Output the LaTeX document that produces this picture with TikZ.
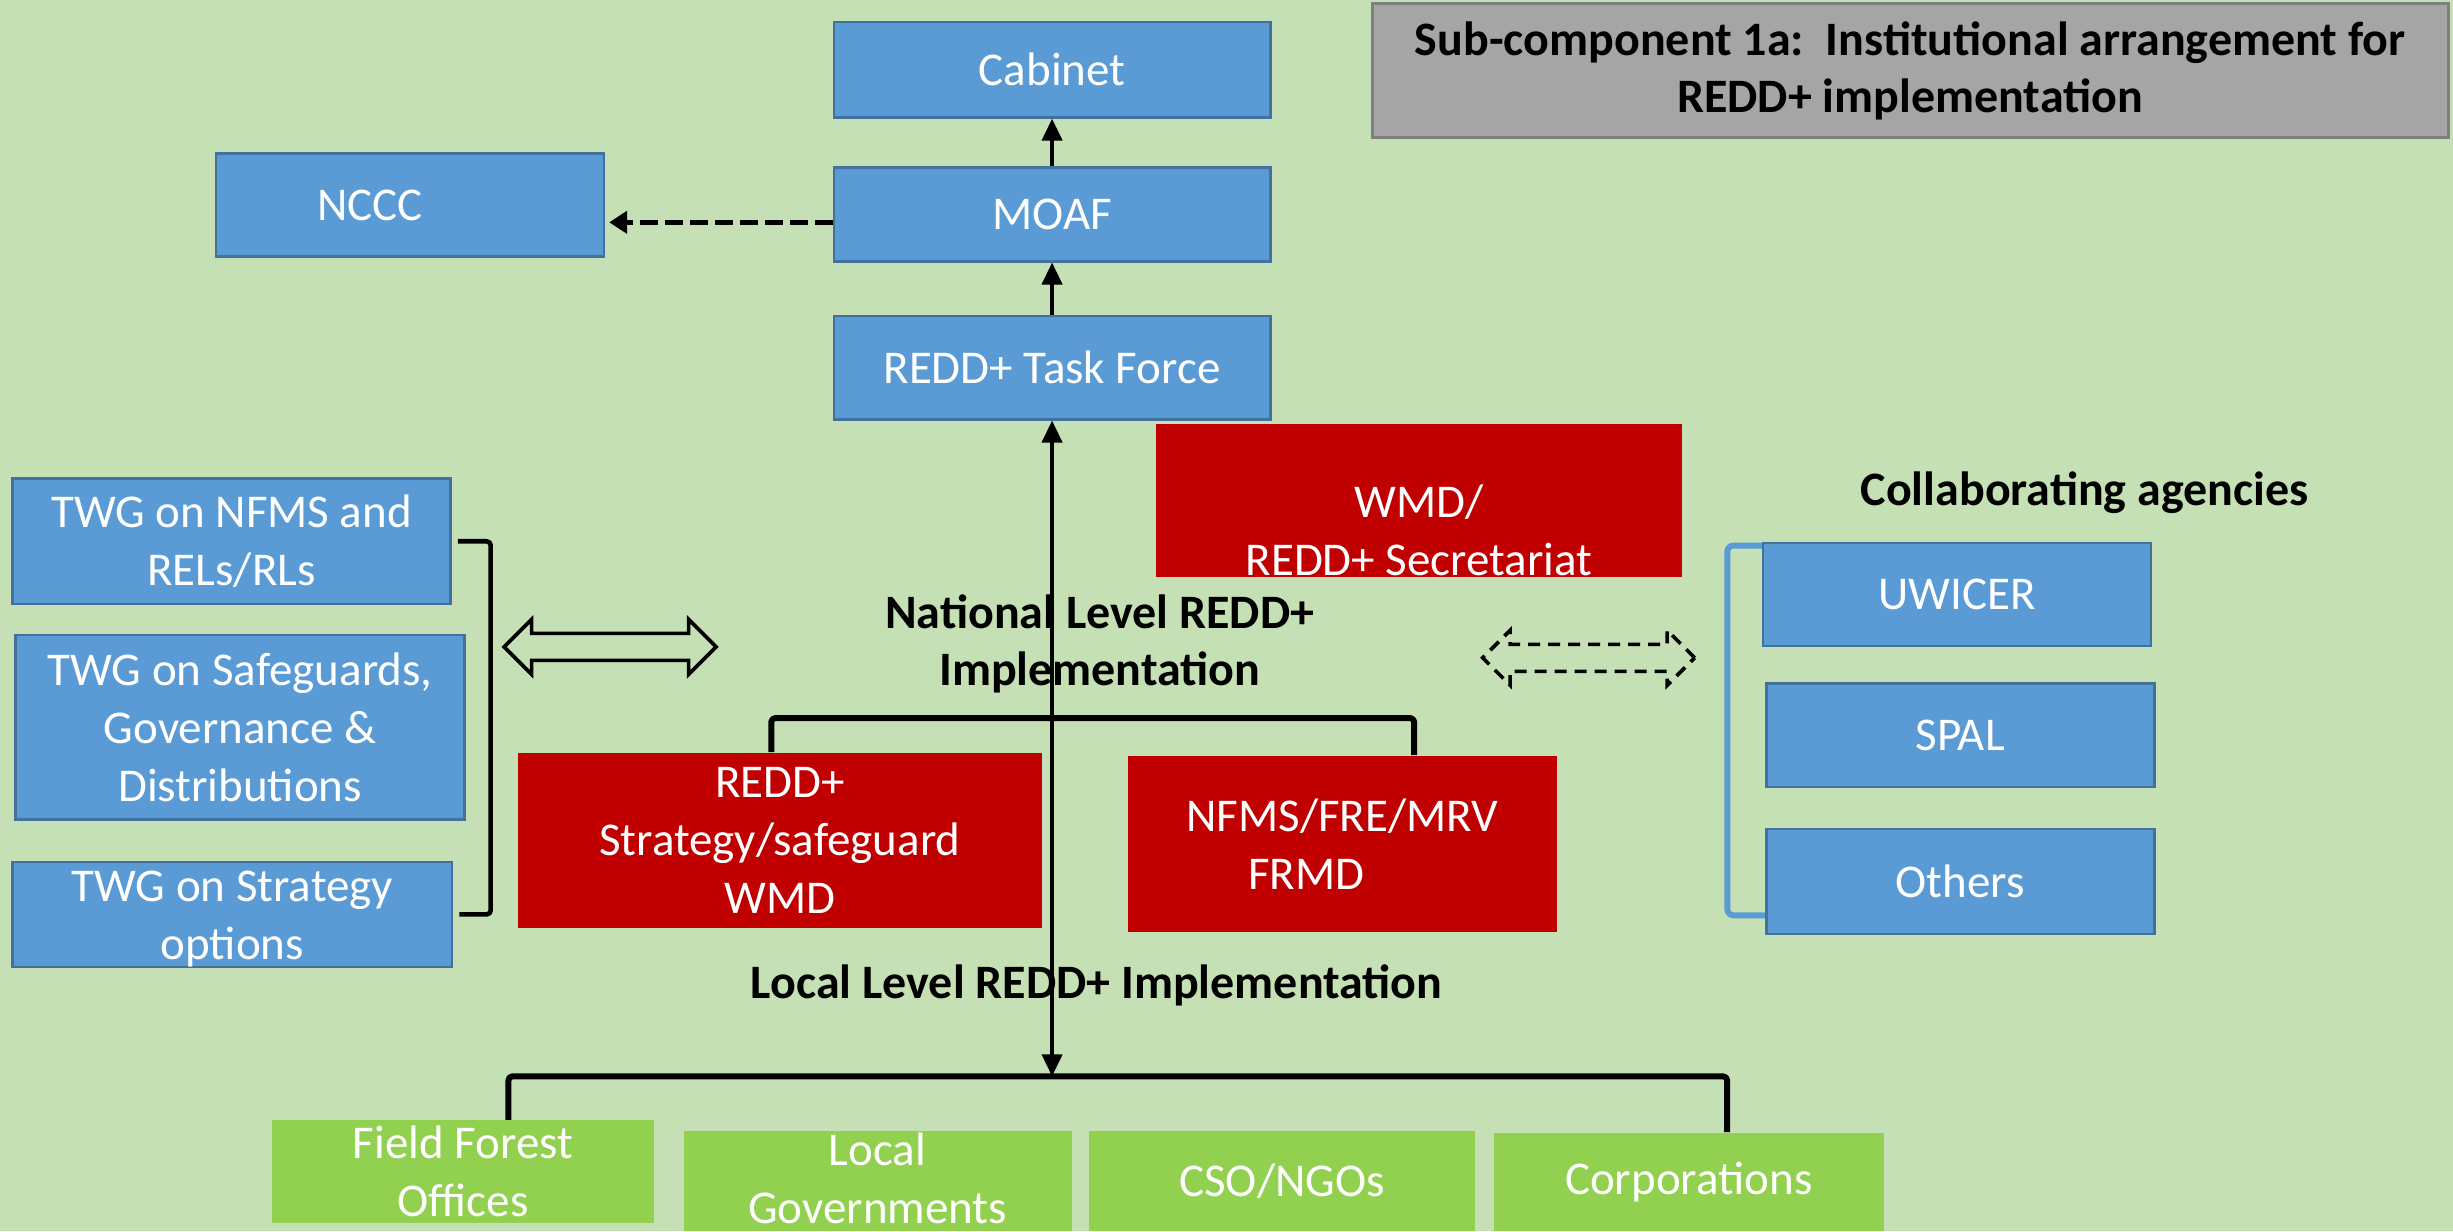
\documentclass[tikz,border=0pt]{standalone}
\usepackage{fontspec}
\setmainfont{Carlito}
\usetikzlibrary{arrows.meta,shapes.arrows,calc}
\definecolor{bgc}{HTML}{C5E0B4}
\definecolor{boxblue}{HTML}{5B9BD5}
\definecolor{bordblue}{HTML}{41719C}
\definecolor{redc}{HTML}{C00000}
\definecolor{greenc}{HTML}{92D050}
\definecolor{titlegray}{HTML}{A5A5A5}
\definecolor{titlebord}{HTML}{7F7F7F}
\newcommand{\regf}{\fontsize{23.5}{29}\selectfont}
\newcommand{\hdf}{\fontsize{24}{28.5}\bfseries\selectfont}
\begin{document}
\begin{tikzpicture}[x=0.7822pt,y=-0.7822pt,
  box/.style={inner sep=0pt, align=center, text=white, font=\regf},
  bluebox/.style={box, draw=bordblue, fill=boxblue, line width=1.3pt},
  redbox/.style={box, fill=redc},
  greenbox/.style={box, fill=greenc},
  wt/.style={inner sep=0pt, align=center, text=white, font=\regf},
  head/.style={inner sep=0pt, align=center, text=black, font=\hdf},
  arr/.style={line width=2pt, -{Triangle[width=10pt,length=11pt]}},
  arrtwo/.style={line width=2pt, {Triangle[width=10pt,length=11pt]}-{Triangle[width=10pt,length=11pt]}},
  darr/.style={line width=2.6pt, dash pattern=on 9pt off 3.5pt, -{Triangle[width=11pt,length=9pt]}, shorten >=2pt},
  brk/.style={line width=3pt, rounded corners=2pt, line join=round},
  dblarr/.style={double arrow, draw=black, line width=1.8pt, minimum height=106pt,
    minimum width=25.8pt, double arrow head extend=7pt, inner xsep=0pt, inner ysep=5.85pt,
    double arrow tip angle=90}
]
\fill[bgc] (0,0) rectangle (1568,787);
\useasboundingbox (0,0) rectangle (1568,787);

% title
\node[draw=titlebord, fill=titlegray, line width=1.5pt, minimum width=538pt, minimum height=67.3pt,
  inner sep=0pt, font=\hdf, align=center] (title) at (1221,45)
  {Sub-component 1a:\ \ Institutional arrangement for\\REDD+ implementation};

% top chain
\node[bluebox, minimum width=218.2pt, minimum height=47.7pt] (cab) at (672.5,44.5) {Cabinet};
\node[bluebox, minimum width=218.2pt, minimum height=46.9pt] (moaf) at (672.5,137) {MOAF};
\node[bluebox, minimum width=218.2pt, minimum height=51.6pt] (tf) at (672.5,235) {REDD+ Task Force};
\node[bluebox, minimum width=194pt, minimum height=51.6pt] (nccc) at (262,131) {};
\node[wt] (nccct) at ([xshift=-20pt]nccc.center) {NCCC};

% red boxes
\node[redbox, minimum width=262.8pt, minimum height=76.7pt] (wmd) at (907,320) {};
\node[wt] (wmdt) at ([yshift=-15pt]wmd.center) {WMD/\\REDD+ Secretariat};
\node[redbox, minimum width=262pt, minimum height=87.6pt] (red1) at (498.5,537) {REDD+\\Strategy/safeguard\\WMD};
\node[redbox, minimum width=214.3pt, minimum height=88.4pt, align=left] (red2) at (858,539.5) {NFMS/FRE/MRV\\\hspace*{31pt}FRMD};

% TWG boxes
\node[bluebox, minimum width=219pt, minimum height=62.6pt] (twg1) at (148,346) {TWG on NFMS and\\RELs/RLs};
\node[bluebox, minimum width=224.5pt, minimum height=92.3pt] (twg2) at (153.5,465) {TWG on Safeguards,\\Governance \&\\Distributions};
\node[bluebox, minimum width=219.8pt, minimum height=52.4pt] (twg3) at (148.5,584.5) {};
\node[wt] (twg3t) at ([yshift=-2.5pt]twg3.center) {TWG on Strategy\\options};

% collaborating
\node[head] (collab) at (1332.5,315) {Collaborating agencies};
\node[bluebox, minimum width=194pt, minimum height=51.6pt] (uw) at (1251,380) {UWICER};
\node[bluebox, minimum width=194pt, minimum height=51.6pt] (spal) at (1253,470) {SPAL};
\node[bluebox, minimum width=194pt, minimum height=52.4pt] (oth) at (1253,563.5) {Others};

% headings
\node[head] (nat) at (703,411.5) {National Level REDD+\\Implementation};
\node[head] (loc) at (701,630) {Local Level REDD+ Implementation};

% green boxes
\node[greenbox, minimum width=190.9pt, minimum height=51.6pt] (ffo) at (296,749) {Field Forest\\Offices};
\node[greenbox, minimum width=194pt, minimum height=50pt] (lg) at (561,755) {};
\node[wt] (lgt) at ([yshift=1.5pt]lg.center) {Local\\Governments};
\node[greenbox, minimum width=193.2pt, minimum height=50pt] (cso) at (819.5,755) {CSO/NGOs};
\node[greenbox, minimum width=194.8pt, minimum height=49.3pt] (corp) at (1079.5,755.5) {Corporations};

% double arrows
\node[dblarr] (da1) at (390,413.5) {};
\node[dblarr, dash pattern=on 6pt off 4pt] (da2) at (1015.5,420.5) {};

% connectors
\draw[arr] (moaf.north) -- (cab.south);
\draw[arr] (tf.north) -- (moaf.south);
\draw[darr] ([yshift=-4pt]moaf.west) -- ([yshift=-4pt]moaf.west -| nccc.east);

\coordinate (nbl) at (493,459);
\coordinate (nbr) at (904,459);
\draw[brk] (nbl |- red1.north) -- (nbl) -- (nbr) -- (nbr |- red2.north);

\coordinate (bbl) at (325,688);
\coordinate (bbr) at (1104,688);
\coordinate (lb) at (672.5,688);
\draw[brk] (bbl |- ffo.north) -- (bbl) -- (bbr) -- (bbr |- corp.north);

\draw[arrtwo] (tf.south) -- (lb);

\draw[brk, line width=2.3pt] ([xshift=3pt]twg1.east) -- ++(21,0) |- ([xshift=3pt]twg3.east);
\draw[line width=3pt, draw=boxblue, rounded corners=3pt] ([yshift=-2pt]uw.north west) -- ++(-22,0) |- ([yshift=10pt]oth.south west);
\end{tikzpicture}
\end{document}
